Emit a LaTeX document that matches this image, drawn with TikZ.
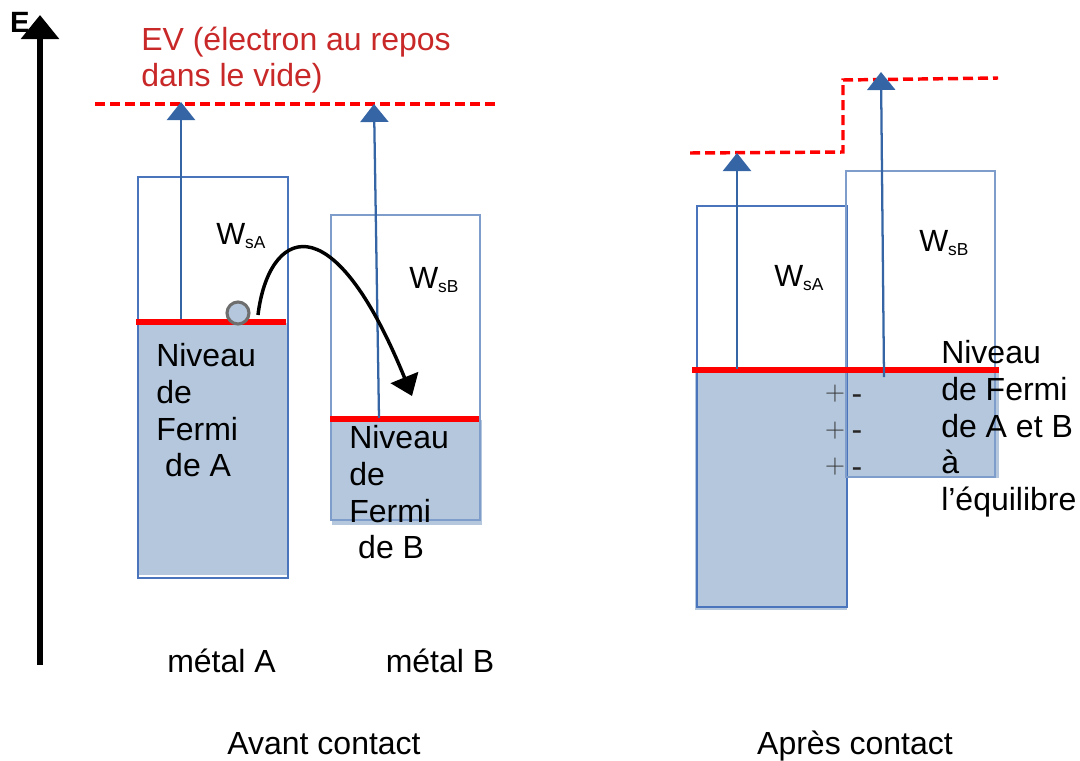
\documentclass[tikz,border=0pt]{standalone}
\usepackage{fontspec}
\setmainfont{Liberation Sans}
\usetikzlibrary{arrows.meta}
\definecolor{fillb}{HTML}{B4C7DC}
\definecolor{boxa}{HTML}{4A74BC}
\definecolor{boxb}{HTML}{7E9DCB}
\definecolor{arrb}{HTML}{3565A5}
\definecolor{evred}{HTML}{C82828}
\definecolor{ballgray}{HTML}{6E6E6E}
\begin{document}
\begin{tikzpicture}[x=0.75pt,y=-0.75pt,
  band/.style={fill=fillb, draw=none},
  boxA/.style={draw=boxa, line width=0.9pt},
  boxB/.style={draw=boxb, line width=0.9pt},
  fermi/.style={red, line width=4.5pt},
  wf/.style={arrb, line width=1.7pt, -{Triangle[width=21pt,length=13.5pt]}},
  vac/.style={red, line width=2.6pt, dash pattern=on 7.5pt off 3.75pt},
  lbl/.style={font=\fontsize{24}{27.5}\selectfont, inner sep=0pt},
  ml/.style={lbl, align=left, anchor=north west},
  wlbl/.style={font=\fontsize{23}{24}\selectfont, inner sep=0pt, anchor=base west},
  pm/.style={font=\fontsize{20}{22}\selectfont, inner sep=0pt, text=black!80},
  mn/.style={lbl, anchor=base, text=black!85}
]
\useasboundingbox (0,0) rectangle (1080,760);

% ---------- energy axis ----------
\node[font=\bfseries\fontsize{22}{24}\selectfont, inner sep=0pt] (E) at (20,22) {E};
\coordinate (ax0) at (40,665);
\coordinate (ax1) at (40,15);
\draw[line width=4.5pt, -{Triangle[width=27.75pt,length=18pt]}] (ax0) -- (ax1);

% ---------- before contact ----------
\fill[band] (139,323) rectangle (288,575);
\fill[band] (332,420) rectangle (482,525);
\draw[boxA] (138,177) rectangle (288,578);
\draw[boxB] (331,215) rectangle (480,520);
\draw[fermi] (136,322) -- (286,322);
\draw[fermi] (330,419) -- (479,419);
\draw[vac] (95,104) -- (495,104);
\coordinate (fa) at (181,319);
\coordinate (va) at (181,102);
\coordinate (fb) at (379,418);
\coordinate (vb) at (374,104);
\draw[wf] (fa) -- (va);
\draw[wf] (fb) -- (vb);
\node[circle, draw=ballgray, fill=fillb, line width=2.3pt, minimum size=16.5pt, inner sep=0pt] (e) at (238,313) {};
\coordinate (c0) at (258,315);
\coordinate (c1) at (412,396);
\draw[black, line width=2.6pt, -{Triangle[width=22pt,length=15pt]}] (c0) .. controls (268,232) and (330,195) .. (c1);

\node[ml, text=evred] (ev) at (141,26.5) {EV (électron au repos\\dans le vide)};
\node[wlbl] (wsa) at (216,244) {W\raisebox{-3pt}{\fontsize{13}{13}\selectfont sA}};
\node[wlbl] (wsb) at (409,288) {W\raisebox{-3pt}{\fontsize{13}{13}\selectfont sB}};
\node[ml] (nfa) at (156,343.5) {Niveau\\de\\Fermi\\\hspace*{.28em}de A};
\node[ml] (nfb) at (349,425.5) {Niveau\\de\\Fermi\\\hspace*{.28em}de B};
\node[lbl, anchor=base] (ma) at (221.5,672.5) {métal A};
\node[lbl, anchor=base] (mb) at (440,672.5) {métal B};
\node[lbl, anchor=base] (av) at (324,754) {Avant contact};

% ---------- after contact ----------
\fill[band] (695,370) rectangle (847,610);
\fill[band] (846,372) rectangle (999,478);
\draw[boxA] (697,206) rectangle (847,607);
\draw[boxB] (846,171) rectangle (995,477);
\draw[fermi] (692,370) -- (999,370);
\draw[vac] (690,153) -- (843,152) -- (843,80) -- (998,78);
\coordinate (fa2) at (737,369);
\coordinate (va2) at (737,153);
\coordinate (fb2) at (884,377);
\coordinate (vb2) at (881,72);
\draw[wf] (fa2) -- (va2);
\draw[wf] (fb2) -- (vb2);
\node[wlbl] (wsa2) at (774,286) {W\raisebox{-3pt}{\fontsize{13}{13}\selectfont sA}};
\node[wlbl] (wsb2) at (919,251) {W\raisebox{-3pt}{\fontsize{13}{13}\selectfont sB}};
\node[pm] (p1) at (835,394) {$+$};
\node[pm] (p2) at (835,431) {$+$};
\node[pm] (p3) at (835,467) {$+$};
\node[mn] (m1) at (857,404) {-};
\node[mn] (m2) at (857,440) {-};
\node[mn] (m3) at (857,477) {-};
\node[ml] (nfab) at (941,340.5) {Niveau\\de Fermi\\de A et B\\à\\l’équilibre};
\node[lbl, anchor=base] (ap) at (855,754) {Après contact};
\end{tikzpicture}
\end{document}
